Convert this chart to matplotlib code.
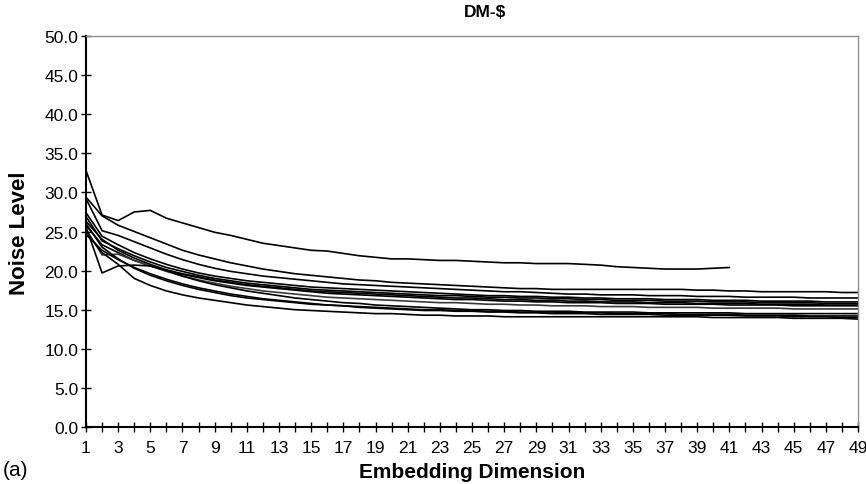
import matplotlib
matplotlib.use("Agg")
import matplotlib.pyplot as plt
from matplotlib.ticker import MultipleLocator, FixedLocator, FormatStrFormatter

plt.rcParams['font.family'] = ['Liberation Sans', 'DejaVu Sans']

dims = list(range(1, 50))
xtick_labels = list(range(1, 50, 2))
title = "DM-$"
xlabel = "Embedding Dimension"
ylabel = "Noise Level"

series_a = [32.8, 27.1, 26.4, 27.5, 27.7, 26.7, 26.1, 25.5, 24.9, 24.5,
            24.0, 23.5, 23.2, 22.9, 22.6, 22.5, 22.2, 21.9, 21.7, 21.5,
            21.5, 21.4, 21.3, 21.3, 21.2, 21.1, 21.0, 21.0, 20.9, 20.9,
            20.9, 20.8, 20.7, 20.5, 20.4, 20.3, 20.2, 20.2, 20.2, 20.3,
            20.4]
series_b = [29.4, 27.0, 25.8, 25.0, 24.2, 23.4, 22.6, 22.0, 21.5, 21.0,
            20.6, 20.2, 19.9, 19.6, 19.4, 19.2, 19.0, 18.8, 18.7, 18.5,
            18.4, 18.3, 18.2, 18.1, 18.0, 17.9, 17.8, 17.7, 17.7, 17.6,
            17.6, 17.6, 17.6, 17.6, 17.6, 17.6, 17.6, 17.6, 17.5, 17.5,
            17.4, 17.4, 17.3, 17.3, 17.3, 17.3, 17.3, 17.2, 17.2]
series_c = [29.2, 25.1, 24.5, 23.7, 22.9, 22.1, 21.4, 20.8, 20.3, 19.9,
            19.6, 19.3, 19.1, 18.9, 18.7, 18.5, 18.3, 18.2, 18.1, 18.0,
            17.9, 17.8, 17.7, 17.6, 17.5, 17.4, 17.3, 17.3, 17.2, 17.1,
            17.0, 17.0, 16.9, 16.9, 16.9, 16.8, 16.8, 16.8, 16.7, 16.7,
            16.7, 16.6, 16.6, 16.6, 16.6, 16.5, 16.5, 16.5, 16.5]
series_d = [27.4, 24.4, 23.3, 22.3, 21.5, 20.8, 20.2, 19.7, 19.3, 19.0,
            18.7, 18.5, 18.3, 18.1, 17.9, 17.8, 17.7, 17.6, 17.5, 17.4,
            17.3, 17.2, 17.1, 17.0, 16.9, 16.8, 16.8, 16.7, 16.7, 16.6,
            16.6, 16.5, 16.5, 16.4, 16.4, 16.4, 16.3, 16.3, 16.3, 16.2,
            16.2, 16.2, 16.1, 16.1, 16.1, 16.1, 16.0, 16.0, 16.0]
series_e = [26.9, 23.8, 22.8, 21.9, 21.1, 20.4, 19.9, 19.4, 19.0, 18.7,
            18.4, 18.2, 18.0, 17.8, 17.6, 17.5, 17.4, 17.3, 17.2, 17.1,
            17.0, 16.9, 16.8, 16.8, 16.7, 16.6, 16.6, 16.5, 16.5, 16.4,
            16.4, 16.3, 16.3, 16.2, 16.2, 16.2, 16.1, 16.1, 16.1, 16.0,
            16.0, 16.0, 15.9, 15.9, 15.9, 15.9, 15.8, 15.8, 15.8]
series_f = [26.3, 24.0, 22.6, 21.6, 20.8, 20.1, 19.6, 19.2, 18.8, 18.5,
            18.2, 18.0, 17.8, 17.6, 17.4, 17.3, 17.2, 17.1, 17.0, 16.9,
            16.8, 16.7, 16.6, 16.5, 16.5, 16.4, 16.3, 16.3, 16.2, 16.2,
            16.1, 16.1, 16.0, 16.0, 16.0, 15.9, 15.9, 15.9, 15.8, 15.8,
            15.8, 15.8, 15.7, 15.7, 15.7, 15.7, 15.6, 15.6, 15.6]
series_g = [25.8, 23.3, 22.3, 21.3, 20.6, 20.0, 19.5, 19.1, 18.7, 18.4,
            18.1, 17.9, 17.7, 17.5, 17.3, 17.1, 17.0, 16.9, 16.8, 16.7,
            16.6, 16.5, 16.4, 16.3, 16.3, 16.2, 16.1, 16.1, 16.0, 16.0,
            15.9, 15.9, 15.9, 15.8, 15.8, 15.8, 15.7, 15.7, 15.7, 15.7,
            15.6, 15.6, 15.6, 15.6, 15.5, 15.5, 15.5, 15.5, 15.5]
series_h = [25.3, 22.0, 22.1, 21.3, 20.6, 19.9, 19.3, 18.8, 18.4, 18.0,
            17.7, 17.4, 17.2, 17.0, 16.8, 16.6, 16.5, 16.4, 16.3, 16.2,
            16.1, 16.0, 15.9, 15.9, 15.8, 15.7, 15.7, 15.6, 15.6, 15.5,
            15.5, 15.5, 15.4, 15.4, 15.4, 15.3, 15.3, 15.3, 15.3, 15.2,
            15.2, 15.2, 15.2, 15.2, 15.1, 15.1, 15.1, 15.1, 15.1]
series_i = [25.6, 19.7, 20.6, 20.7, 20.6, 20.0, 19.3, 18.7, 18.2, 17.8,
            17.4, 17.1, 16.8, 16.5, 16.3, 16.1, 15.9, 15.8, 15.6, 15.5,
            15.4, 15.3, 15.2, 15.1, 15.0, 15.0, 14.9, 14.9, 14.8, 14.8,
            14.8, 14.7, 14.7, 14.7, 14.7, 14.6, 14.6, 14.6, 14.6, 14.6,
            14.6, 14.5, 14.5, 14.5, 14.5, 14.5, 14.5, 14.5, 14.5]
series_j = [26.0, 23.0, 21.5, 20.3, 19.4, 18.7, 18.1, 17.6, 17.2, 16.8,
            16.5, 16.3, 16.1, 15.9, 15.7, 15.6, 15.5, 15.4, 15.3, 15.2,
            15.1, 15.0, 15.0, 14.9, 14.9, 14.8, 14.8, 14.7, 14.7, 14.7,
            14.6, 14.6, 14.6, 14.5, 14.5, 14.5, 14.5, 14.4, 14.4, 14.4,
            14.4, 14.3, 14.3, 14.3, 14.3, 14.2, 14.2, 14.2, 14.2]
series_k = [25.0, 22.3, 20.8, 19.0, 18.1, 17.4, 16.9, 16.5, 16.2, 15.9,
            15.6, 15.4, 15.2, 15.0, 14.9, 14.8, 14.7, 14.6, 14.5, 14.5,
            14.4, 14.3, 14.3, 14.2, 14.2, 14.2, 14.1, 14.1, 14.1, 14.1,
            14.1, 14.1, 14.1, 14.1, 14.1, 14.1, 14.1, 14.1, 14.1, 14.0,
            14.0, 14.0, 14.0, 14.0, 13.9, 13.9, 13.9, 13.9, 13.8]
series_l = [24.6, 22.6, 21.4, 20.4, 19.6, 18.9, 18.3, 17.8, 17.4, 17.0,
            16.7, 16.4, 16.2, 16.0, 15.8, 15.6, 15.5, 15.3, 15.2, 15.1,
            15.0, 14.9, 14.9, 14.8, 14.8, 14.7, 14.7, 14.6, 14.6, 14.5,
            14.5, 14.5, 14.4, 14.4, 14.4, 14.4, 14.3, 14.3, 14.3, 14.3,
            14.3, 14.2, 14.2, 14.2, 14.1, 14.1, 14.1, 14.0, 14.0]

all_series = [series_a, series_b, series_c, series_d, series_e, series_f,
              series_g, series_h, series_i, series_j, series_k, series_l]
line_colors = ['black'] * 12
line_colors[7] = '#3a3a3a'

fig = plt.figure(figsize=(8.66, 4.85), dpi=100)
ax = fig.add_axes([0.0993, 0.1175, 0.8915, 0.8062])

for s, c in zip(all_series, line_colors):
    ax.plot(dims[:len(s)], s, color=c, linewidth=1.2, solid_joinstyle='round')

ax.set_xlim(1, 49)
ax.set_ylim(0, 50)
ax.xaxis.set_major_locator(FixedLocator(xtick_labels))
ax.xaxis.set_minor_locator(MultipleLocator(1))
ax.yaxis.set_major_locator(MultipleLocator(5))
ax.yaxis.set_major_formatter(FormatStrFormatter('%.1f'))
ax.tick_params(axis='both', which='both', direction='inout', color='black', width=1.0)
ax.tick_params(axis='both', which='major', length=7, labelsize=12.5)
ax.tick_params(axis='x', which='minor', length=7)
ax.tick_params(axis='x', which='major', pad=6)
ax.tick_params(axis='y', which='major', pad=2)

for side in ['left', 'bottom']:
    ax.spines[side].set_color('black')
    ax.spines[side].set_linewidth(1.5)
for side in ['top', 'right']:
    ax.spines[side].set_color('#909090')
    ax.spines[side].set_linewidth(1.0)

fig.text(0.560, 0.975, "DM-\\$", ha='center', va='center', fontsize=12.5, fontweight='bold')
fig.text(0.545, 0.025, xlabel, ha='center', va='center', fontsize=15, fontweight='bold')
fig.text(0.023, 0.52, ylabel, ha='center', va='center', fontsize=16, fontweight='bold', rotation=90)
fig.text(0.003, 0.03, "(a)", ha='left', va='center', fontsize=15)

fig.savefig("out.png", dpi=100)
